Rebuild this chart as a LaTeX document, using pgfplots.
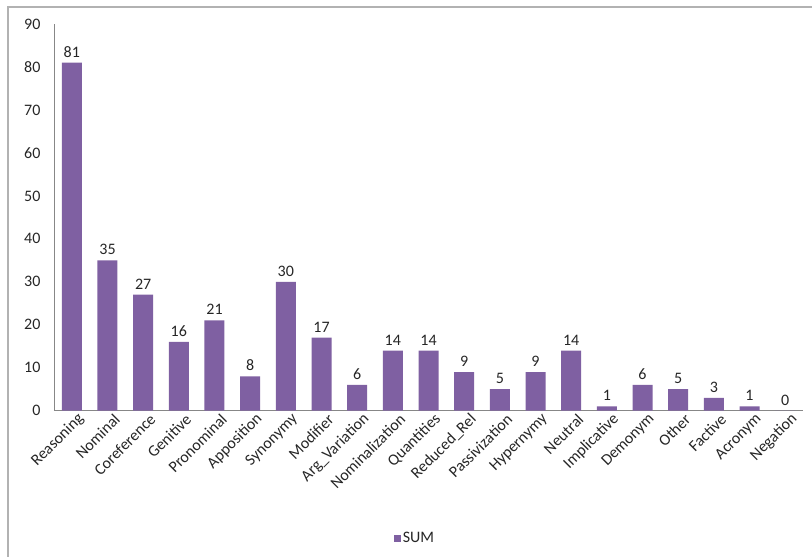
\documentclass[border=0pt]{standalone}
\usepackage{pgfplots}
\pgfplotsset{compat=1.18}
\usepackage{fontspec}
\setmainfont{Carlito}
\definecolor{barpurple}{HTML}{7F60A2}
\definecolor{axgray}{HTML}{878787}
\begin{document}
\begin{tikzpicture}
\begin{axis}[
  name=ax, at={(0pt,0pt)}, anchor=south west,
  scale only axis, width=749pt, height=386.7pt,
  xmin=-0.5, xmax=20.5, ymin=0, ymax=90,
  axis x line=bottom, axis y line=left,
  axis line style={-, axgray, line width=0.8pt},
  ytick={0,10,...,90}, major tick length=0pt,
  xtick={0,...,20},
  xticklabels={Reasoning,Nominal,Coreference,Genitive,Pronominal,Apposition,Synonymy,Modifier,Arg\_Variation,Nominalization,Quantities,Reduced\_Rel,Passivization,Hypernymy,Neutral,Implicative,Demonym,Other,Factive,Acronym,Negation},
  tick label style={font=\fontsize{16}{19}\selectfont, text=black!85},
  /pgf/number format/assume math mode=true,
  yticklabel style={anchor=east, xshift=-10pt},
  xticklabel style={rotate=45, anchor=east, xshift=6pt, yshift=-11pt},
  ybar, bar width=20pt,
  nodes near coords,
  nodes near coords style={font=\fontsize{16}{19}\selectfont, text=black!85, anchor=south, yshift=2pt},
  legend style={at={(0.482,-0.33)}, anchor=center, draw=none, font=\fontsize{16}{19}\selectfont, text=black!85},
  legend image code/.code={\fill[barpurple] (0pt,-3.5pt) rectangle (7pt,3.5pt);},
  clip=false,
]
\addplot[fill=barpurple, draw=none] coordinates {
(0,81) (1,35) (2,27) (3,16) (4,21) (5,8) (6,30) (7,17) (8,6) (9,14) (10,14)
(11,9) (12,5) (13,9) (14,14) (15,1) (16,6) (17,5) (18,3) (19,1) (20,0)};
\addlegendentry{SUM}
\end{axis}
\pgfresetboundingbox
\draw[gray!60, line width=1.2pt] (-46pt,-160pt) -- (-46pt,403.7pt) -- (770pt,403.7pt);
\pgfresetboundingbox
\useasboundingbox (-54pt,-146.3pt) rectangle (758pt,410.7pt);
\end{tikzpicture}
\end{document}
